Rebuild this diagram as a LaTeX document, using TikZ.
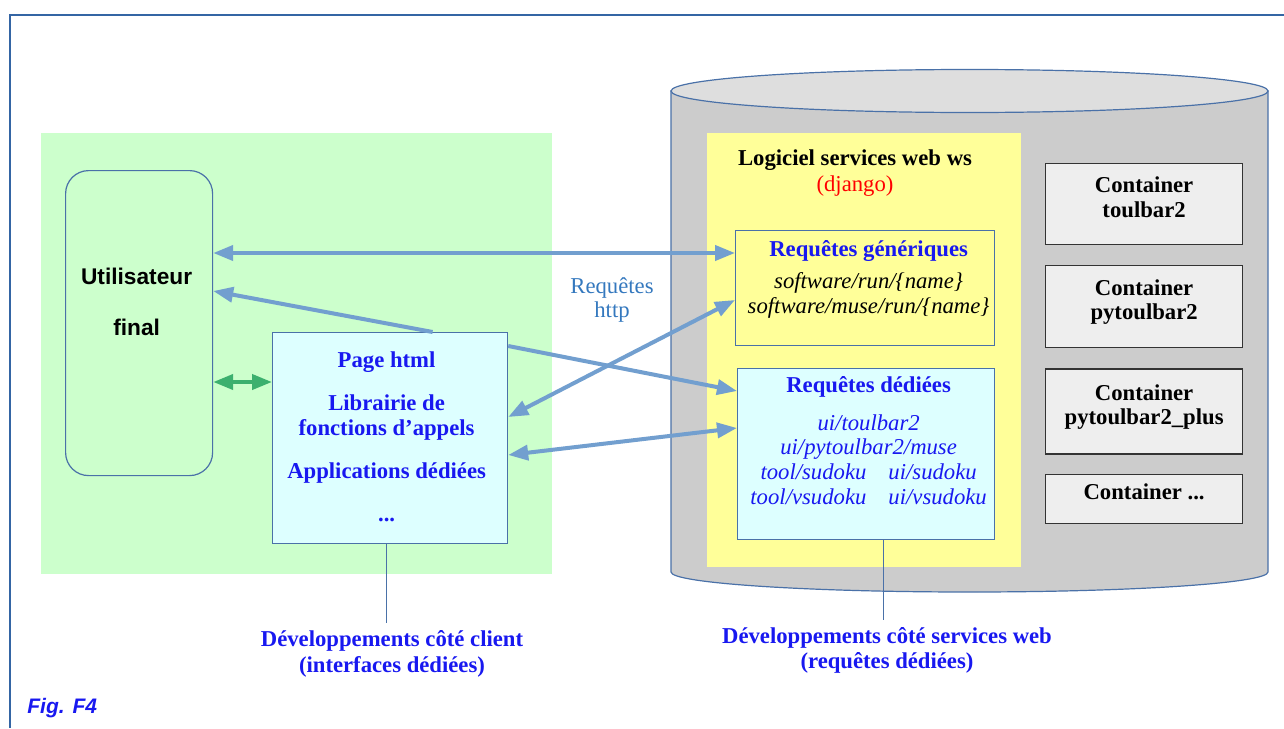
\documentclass[tikz,border=0pt]{standalone}
\usepackage{fontspec}
\setmainfont{Liberation Serif}
\setsansfont{Liberation Sans}
\usepackage{tikz}
\usepackage{xcolor}
\usetikzlibrary{positioning,arrows.meta}
\definecolor{frameblue}{RGB}{52,101,164}
\definecolor{edgeblue}{RGB}{74,113,168}
\definecolor{linkblue}{RGB}{114,159,207}
\definecolor{linkgreen}{RGB}{60,176,110}
\definecolor{clientgreen}{RGB}{204,255,204}
\definecolor{palecyan}{RGB}{221,255,255}
\definecolor{paleyellow}{RGB}{255,255,153}
\definecolor{cylgray}{RGB}{204,204,204}
\definecolor{cyltop}{RGB}{222,222,222}
\definecolor{boxgray}{RGB}{238,238,238}
\definecolor{textblue}{RGB}{24,24,240}
\definecolor{httpblue}{RGB}{52,120,190}
\tikzstyle{zone}=[rectangle, draw=none, inner sep=0pt, anchor=north west]
\tikzstyle{bloc}=[rectangle, draw=edgeblue, line width=0.6pt, inner sep=0pt, anchor=north west]
\tikzstyle{container}=[rectangle, draw=black!80, fill=boxgray, line width=0.6pt, align=center, text=black, text depth=7pt, font=\fontsize{11.35}{12.3}\selectfont\bfseries, minimum width=98.5pt]
\tikzstyle{title}=[align=center, inner sep=0pt, font=\fontsize{11.35}{12.3}\selectfont\bfseries]
\tikzstyle{request}=[align=center, inner sep=0pt, font=\fontsize{11.35}{12.3}\selectfont\itshape]
\tikzstyle{devnote}=[align=center, anchor=north, text=textblue, font=\fontsize{11.35}{12.3}\selectfont\bfseries]
\tikzstyle{link}=[draw=linkblue, line width=2pt]

\begin{document}
\begin{tikzpicture}[x=0.5pt, y=-0.5pt, >={Triangle[length=10pt,width=7.5pt]}, font=\fontsize{11.35}{12.3}\selectfont]
    \useasboundingbox (0,0) rectangle (1284,728);
    \draw[frameblue, line width=1pt] (1284,14.5) -- (9.5,14.5) -- (9.5,728);
    \node(client)[zone, fill=clientgreen, minimum width=255.5pt, minimum height=220.5pt] at (41,133) {};
    \filldraw[fill=cylgray, draw=edgeblue, line width=0.6pt] (671,91) -- (671,572) arc[start angle=180, end angle=360, x radius=149.25pt, y radius=10pt] -- (1268,91) -- cycle;
    \filldraw[fill=cyltop, draw=edgeblue, line width=0.6pt] (969.5,91) ellipse [x radius=149.25pt, y radius=10.75pt];
    \node(ws)[zone, fill=paleyellow, minimum width=157pt, minimum height=217pt] at (707,133) {};
    \node(wstitle)[title, anchor=north] at (855,149) {Logiciel services web ws\\[0.7pt]{\mdseries\color{red}(django)}};

        \node(genbox)[bloc, fill=paleyellow, minimum width=129.5pt, minimum height=57.5pt] at (735,230) {};
        \node(gentitle)[title, text=textblue, below=5pt of genbox.north, xshift=1.75pt] {Requêtes génériques};
        \node(genlist)[request, below=5.25pt of gentitle] {software/run/\{name\}\\software/muse/run/\{name\}};

        \node(dedbox)[bloc, fill=palecyan, minimum width=128.5pt, minimum height=85.5pt] at (737,368) {};
        \node(dedtitle)[title, text=textblue, below=4pt of dedbox.north, xshift=1.25pt] {Requêtes dédiées};
        \node(dedlist)[request, text=textblue, below=8.25pt of dedtitle] {ui/toulbar2\\ui/pytoulbar2/muse\\tool/sudoku\hspace{11pt}ui/sudoku\\tool/vsudoku\hspace{11pt}ui/vsudoku};

        \node(tb2)[container, minimum height=40.5pt, anchor=north west] at (1045,163) {Container\\toulbar2};
        \node(pytb2)[container, minimum height=41pt, below=10pt of tb2] {Container\\pytoulbar2};
        \node(pytb2plus)[container, minimum height=42.5pt, below=10pt of pytb2] {Container\\pytoulbar2\_plus};
        \node(other)[container, minimum height=24.5pt, below=9.5pt of pytb2plus] {Container ...};

        \node(user)[bloc, rounded corners=11.5pt, minimum width=73.5pt, minimum height=152.5pt] at (65,170) {};
        \node(usertext)[title, font=\fontsize{11.35}{12.3}\selectfont\sffamily\bfseries, below=48.75pt of user.north, xshift=-1.25pt] {Utilisateur\\[13.2pt]final};

        \node(page)[bloc, fill=palecyan, minimum width=117.5pt, minimum height=105.5pt] at (272,332) {};
        \node(pagetext)[title, text=textblue, below=9.8pt of page.north, xshift=-1.75pt] {Page html\\[9.2pt]Librairie de\\fonctions d’appels\\[9.2pt]Applications dédiées\\[9.2pt]...};

        \node(http)[align=center, inner sep=0pt, text=httpblue] at (612,300) {Requêtes\\http};

        \node(clientdev)[devnote] at (392,623) {Développements côté client\\[0.7pt](interfaces dédiées)};
        \node(wsdev)[devnote] at (887,620) {Développements côté services web\\[0.2pt](requêtes dédiées)};
        \node(fig)[anchor=base west, inner sep=0pt, text=textblue, font=\fontsize{10.5}{12}\selectfont\sffamily\bfseries\itshape] at (27,713) {Fig. F4};

        \coordinate(lvlgen) at (0,253);
        \coordinate(lvluser) at (0,291);
        \coordinate(lvlgreen) at (0,382);
        \draw[link,<->] (user.east |- lvlgen) -- (genbox.west |- lvlgen);
        \draw[link,->] ([xshift=21.25pt]page.north) -- (user.east |- lvluser);
        \draw[link,->] ([yshift=-7pt]page.north east) -- ([yshift=-11.5pt]dedbox.north west);
        \draw[link,<->] ([yshift=-42.5pt]page.north east) -- ([yshift=-35pt]genbox.north west);
        \draw[link,<->] ([yshift=-61.5pt]page.north east) -- ([yshift=-30pt]dedbox.north west);
        \draw[link,draw=linkgreen,<->] (user.east |- lvlgreen) -- (page.west |- lvlgreen);
        \draw[edgeblue, line width=0.6pt] ([xshift=-1.75pt]page.south) -- ([xshift=-1.75pt]page.south |- clientdev.north);
        \draw[edgeblue, line width=0.6pt] ([xshift=8.75pt]dedbox.south) -- ([xshift=8.75pt]dedbox.south |- wsdev.north);
\end{tikzpicture}
\end{document}
